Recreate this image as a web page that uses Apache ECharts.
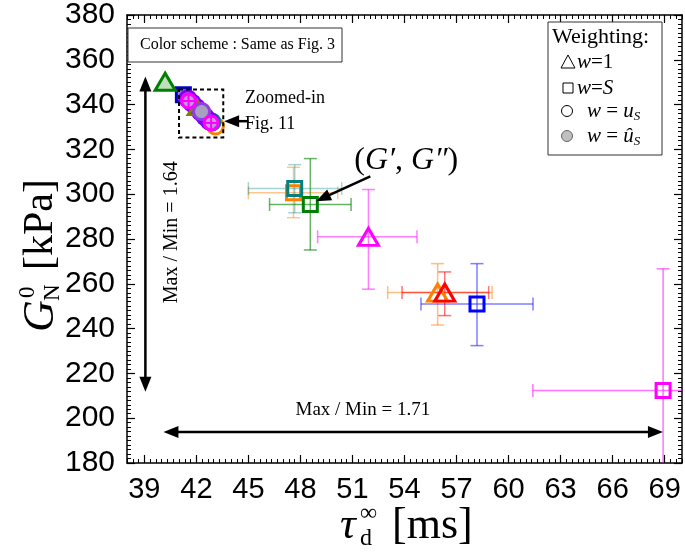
<!DOCTYPE html>
<html><head><meta charset="utf-8">
<script src="https://cdn.jsdelivr.net/npm/echarts@6/dist/echarts.min.js"></script>
<style>html,body{margin:0;padding:0;background:#fff}#c{width:685px;height:556px}</style>
</head><body><div id="c"></div>
<script>
// ---------------- DATA ----------------
const xTickLabels = [39, 42, 45, 48, 51, 54, 57, 60, 63, 66, 69];
const yTickLabels = [180, 200, 220, 240, 260, 280, 300, 320, 340, 360, 380];

// main points: tau_d^inf [ms], G_N^0 [kPa], with error ranges
const pointKeys = ['w1Green', 'sOrange', 'sTeal', 'sGreen', 'w1Magenta', 'w1Orange', 'w1Red', 'sBlue', 'sMagenta'];
const pointShape = ['tri', 'sq', 'sq', 'sq', 'tri', 'tri', 'tri', 'sq', 'sq'];
const tauD    = [40.2, 47.6, 47.67, 48.57, 51.92, 55.91, 56.32, 58.18, 68.91];
const gN0     = [350.2, 300.6, 302.5, 295.4, 281.0, 256.1, 256.1, 251.0, 212.4];
const tauLow  = [null, 45.0, 45.0, 46.22, 48.99, 53.03, 53.86, 54.95, 61.4];
const tauHigh = [null, 50.15, 50.38, 50.92, 54.72, 59.05, 58.85, 61.41, 76.4];
const gLow    = [null, 289.5, 291.7, 275.1, 257.6, 241.6, 245.8, 232.4, 158.0];
const gHigh   = [null, 312.0, 313.2, 315.9, 302.1, 269.0, 265.3, 269.0, 266.7];

// zoomed-in cluster (see Fig. 11)
const zoomBlueSq     = [[41.25, 344.4]];
const zoomOrangeCirc = [[43.1, 330.4]];
const zoomTealCirc   = [[42.9, 332.2]];
const zoomViolet     = [[41.5, 342.6], [41.75, 340.7], [42.0, 338.7], [42.25, 336.7], [42.5, 334.6], [42.75, 332.7]];
const zoomOliveTri   = [[42.05, 338.6]];
const zoomGrayCirc   = [[42.3, 336.9]];
const zoomMagentaX   = [[41.55, 341.6], [42.85, 331.8]];

// annotations (data coordinates)
const zoomBox   = [41.0, 325.3, 43.55, 346.7];
const vArrow    = [[39.06, 211.8], [39.06, 352.6]];
const hArrow    = [[40.1, 193.8], [68.9, 193.8]];
const gArrow    = [[52.03, 308.0], [48.9, 296.9]];
const figArrow  = [[45.0, 332.6], [43.6, 332.6]];
const textZoom  = [44.8, 343.0];
const textFig   = [44.8, 331.0];
const textV     = [40.6, 283.0];
const textH     = [51.6, 203.6];
const textG     = [54.1, 315.0];

// ---------------- STYLE ----------------
const colors = {
  w1Green: '#008000', sOrange: '#FF8000', sTeal: '#008080', sGreen: '#008000',
  w1Magenta: '#FF00FF', w1Orange: '#FF8000', w1Red: '#FF0000', sBlue: '#0000FF', sMagenta: '#FF00FF'
};
const barColors = {
  w1Green: 'rgba(0,128,0,0.5)', sOrange: 'rgba(255,128,0,0.45)', sTeal: 'rgba(0,128,128,0.35)',
  sGreen: 'rgba(0,128,0,0.6)', w1Magenta: 'rgba(255,0,255,0.5)', w1Orange: 'rgba(255,128,0,0.5)',
  w1Red: 'rgba(255,0,0,0.55)', sBlue: 'rgba(0,0,255,0.5)', sMagenta: 'rgba(255,0,255,0.55)'
};
const SERIF = '"Liberation Serif", "Times New Roman", serif';
const SANS = '"Liberation Sans", Arial, sans-serif';

const chart = echarts.init(document.getElementById('c'), null, {renderer: 'canvas'});

const series = [];

// error bars
pointKeys.forEach((k, i) => {
  if (tauLow[i] == null) return;
  series.push({
    type: 'custom', name: k + '_err', clip: true, z: 2,
    data: [[tauD[i], gN0[i], tauLow[i], tauHigh[i], gLow[i], gHigh[i]]],
    renderItem: (params, api) => {
      const x = api.value(0), y = api.value(1);
      const pl = api.coord([api.value(2), y]), ph = api.coord([api.value(3), y]);
      const ql = api.coord([x, api.value(4)]), qh = api.coord([x, api.value(5)]);
      const cap = 6.5;
      const st = {stroke: barColors[k], lineWidth: 1.5};
      const L = (x1, y1, x2, y2) => ({type: 'line', shape: {x1, y1, x2, y2}, style: st});
      return {type: 'group', children: [
        L(pl[0], pl[1], ph[0], ph[1]),
        L(pl[0], pl[1] - cap, pl[0], pl[1] + cap),
        L(ph[0], ph[1] - cap, ph[0], ph[1] + cap),
        L(ql[0], ql[1], qh[0], qh[1]),
        L(ql[0] - cap, ql[1], ql[0] + cap, ql[1]),
        L(qh[0] - cap, qh[1], qh[0] + cap, qh[1])
      ]};
    }
  });
});

// markers helper
function markerSeries(name, data, shape, color, fill, z, size) {
  return {
    type: 'scatter', name, data, z: z || 5,
    symbol: shape === 'tri' ? 'triangle' : (shape === 'sq' ? 'rect' : 'circle'),
    symbolSize: size || (shape === 'tri' ? [20, 17] : (shape === 'sq' ? 14 : 16)),
    itemStyle: {color: fill || 'rgba(255,255,255,0)', borderColor: color, borderWidth: 3, opacity: 1},
    emphasis: {disabled: true}
  };
}

// zoomed cluster
series.push(markerSeries('zBlue', zoomBlueSq, 'sq', '#0000CC', 'rgba(80,0,200,0.5)', 4));
series.push(markerSeries('zOrange', zoomOrangeCirc, 'c', '#FF8000', 'rgba(255,255,255,0)', 4));
series.push(markerSeries('zTeal', zoomTealCirc, 'c', '#008080', 'rgba(255,255,255,0)', 4));
series.push(markerSeries('zViolet', zoomViolet, 'c', '#8000FF', '#B080F0', 5));
series.push(markerSeries('zOlive', zoomOliveTri, 'tri', '#808000', 'rgba(255,255,255,0)', 6, [18, 14]));
series.push(markerSeries('zGray', zoomGrayCirc, 'c', '#9040E0', '#A8A0C0', 6));
series.push({
  type: 'custom', name: 'zMagenta', z: 7, data: zoomMagentaX,
  renderItem: (params, api) => {
    const p = api.coord([api.value(0), api.value(1)]);
    const r = 7;
    const st = {stroke: '#FF00FF', lineWidth: 2};
    return {type: 'group', children: [
      {type: 'circle', shape: {cx: p[0], cy: p[1], r}, style: {fill: 'rgba(200,160,230,0.9)', stroke: '#FF00FF', lineWidth: 3}},
      {type: 'line', shape: {x1: p[0] - r, y1: p[1], x2: p[0] + r, y2: p[1]}, style: st},
      {type: 'line', shape: {x1: p[0], y1: p[1] - r, x2: p[0], y2: p[1] + r}, style: st}
    ]};
  }
});

// main markers
pointKeys.forEach((k, i) => {
  const fill = k === 'w1Green' ? 'rgba(0,128,0,0.25)' : null;
  series.push(markerSeries(k, [[tauD[i], gN0[i]]], pointShape[i], colors[k], fill, 8));
});

// annotations: dashed box
series.push({
  type: 'custom', name: 'zoomBox', z: 9, silent: true, data: [zoomBox],
  renderItem: (params, api) => {
    const a = api.coord([api.value(0), api.value(1)]);
    const b = api.coord([api.value(2), api.value(3)]);
    return {type: 'rect', shape: {x: a[0], y: b[1], width: b[0] - a[0], height: a[1] - b[1]},
      style: {fill: 'none', stroke: '#000', lineWidth: 2, lineDash: [4, 3]}};
  }
});

// arrows
function arrowSeries(name, pts, both) {
  return {
    type: 'custom', name, z: 10, silent: true, data: [[pts[0][0], pts[0][1], pts[1][0], pts[1][1]]],
    renderItem: (params, api) => {
      const a = api.coord([api.value(0), api.value(1)]);
      const b = api.coord([api.value(2), api.value(3)]);
      const head = (from, to) => {
        const dx = to[0] - from[0], dy = to[1] - from[1];
        const len = Math.hypot(dx, dy), ux = dx / len, uy = dy / len;
        const hl = 15, hw = 6;
        const bx = to[0] - ux * hl, by = to[1] - uy * hl;
        return {type: 'polygon', shape: {points: [[to[0], to[1]], [bx - uy * hw, by + ux * hw], [bx + uy * hw, by - ux * hw]]},
          style: {fill: '#000'}};
      };
      const dx = b[0] - a[0], dy = b[1] - a[1], len = Math.hypot(dx, dy);
      const ux = dx / len, uy = dy / len;
      const s = both ? [a[0] + ux * 12, a[1] + uy * 12] : a;
      const e = [b[0] - ux * 12, b[1] - uy * 12];
      const ch = [{type: 'line', shape: {x1: s[0], y1: s[1], x2: e[0], y2: e[1]}, style: {stroke: '#000', lineWidth: 2.5}},
        head(a, b)];
      if (both) ch.push(head(b, a));
      return {type: 'group', children: ch};
    }
  };
}
series.push(arrowSeries('vArrow', vArrow, true));
series.push(arrowSeries('hArrow', hArrow, true));
series.push(arrowSeries('gArrow', gArrow, false));
series.push(arrowSeries('figArrow', figArrow, false));

// text annotations
function textSeries(name, pos, text, opts) {
  return {
    type: 'custom', name, z: 11, silent: true, data: [pos],
    renderItem: (params, api) => {
      const p = api.coord([api.value(0), api.value(1)]);
      return {type: 'text', x: p[0], y: p[1], rotation: opts.rotation || 0,
        style: {text, fill: '#000', font: opts.font, align: opts.align || 'center', verticalAlign: 'middle'}};
    }
  };
}
series.push(textSeries('tZoom', textZoom, 'Zoomed-in', {font: '18px ' + SERIF, align: 'left'}));
series.push(textSeries('tFig', textFig, 'Fig. 11', {font: '18px ' + SERIF, align: 'left'}));
series.push(textSeries('tV', textV, 'Max / Min = 1.64', {font: '20px ' + SERIF, rotation: Math.PI / 2}));
series.push(textSeries('tH', textH, 'Max / Min = 1.71', {font: '19px ' + SERIF}));
series.push({
  type: 'custom', name: 'tG', z: 11, silent: true, data: [textG],
  renderItem: (params, api) => {
    const p = api.coord([api.value(0), api.value(1)]);
    return {type: 'text', x: p[0], y: p[1], style: {
      text: '{n|(}{i|G′}{n|, }{i|G″}{n|)}', align: 'center', verticalAlign: 'middle',
      rich: {n: {font: '32px ' + SERIF, fill: '#000'}, i: {font: 'italic 32px ' + SERIF, fill: '#000'}}
    }};
  }
});

const axisCommon = {
  type: 'value', scale: false,
  splitLine: {show: false},
  axisLine: {show: true, onZero: false, lineStyle: {color: '#000', width: 1.5}}
};

const option = {
  animation: false,
  backgroundColor: '#fff',
  grid: {left: 127, right: 3, top: 13, bottom: 93, containLabel: false},
  xAxis: [
    Object.assign({}, axisCommon, {position: 'bottom', min: 38, max: 70, interval: 1,
      axisTick: {show: true, inside: true, length: 4, lineStyle: {color: '#000', width: 1}},
      minorTick: {show: true, splitNumber: 3, length: 4, lineStyle: {color: '#000', width: 1}},
      axisLabel: {show: true, customValues: xTickLabels, margin: 12, color: '#000', fontSize: 29, fontFamily: SANS}
    }),
    Object.assign({}, axisCommon, {position: 'bottom', min: 38, max: 70, interval: 1,
      axisLine: {show: false},
      axisTick: {show: true, inside: true, length: 8, customValues: xTickLabels, lineStyle: {color: '#000', width: 1.2}},
      axisLabel: {show: false}
    }),
    Object.assign({}, axisCommon, {position: 'top', min: 38, max: 70, interval: 1,
      axisTick: {show: true, inside: true, length: 4, lineStyle: {color: '#000', width: 1}},
      minorTick: {show: true, splitNumber: 3, length: 4, lineStyle: {color: '#000', width: 1}},
      axisLabel: {show: false}
    }),
    Object.assign({}, axisCommon, {position: 'top', min: 38, max: 70, interval: 1,
      axisLine: {show: false},
      axisTick: {show: true, inside: true, length: 8, customValues: xTickLabels, lineStyle: {color: '#000', width: 1.2}},
      axisLabel: {show: false}
    })
  ],
  yAxis: [
    Object.assign({}, axisCommon, {position: 'left', min: 180, max: 380, interval: 20,
      axisTick: {show: true, inside: true, length: 8, lineStyle: {color: '#000', width: 1.2}},
      minorTick: {show: true, splitNumber: 10, length: 4, lineStyle: {color: '#000', width: 1}},
      axisLabel: {show: true, customValues: yTickLabels, margin: 12, color: '#000', fontSize: 30, fontFamily: SANS}
    }),
    Object.assign({}, axisCommon, {position: 'right', min: 180, max: 380, interval: 20,
      axisTick: {show: true, inside: true, length: 8, lineStyle: {color: '#000', width: 1.2}},
      minorTick: {show: true, splitNumber: 10, length: 4, lineStyle: {color: '#000', width: 1}},
      axisLabel: {show: false}
    })
  ],
  series,
  graphic: [
    // colour-scheme note
    {type: 'rect', shape: {x: 128, y: 28, width: 214, height: 34}, style: {fill: '#fff', stroke: '#333', lineWidth: 1}, z: 20},
    {type: 'text', x: 140, y: 45, style: {text: 'Color scheme : Same as Fig. 3', font: '16px ' + SERIF, fill: '#000', verticalAlign: 'middle'}, z: 21},
    // weighting legend
    {type: 'rect', shape: {x: 548, y: 22, width: 114, height: 133}, style: {fill: '#fff', stroke: '#333', lineWidth: 1}, z: 20},
    {type: 'text', x: 552, y: 37, style: {text: 'Weighting:', font: '22px ' + SERIF, fill: '#000', verticalAlign: 'middle'}, z: 21},
    {type: 'polygon', shape: {points: [[568, 55], [561, 68], [575, 68]]}, style: {fill: 'none', stroke: '#000', lineWidth: 1}, z: 21},
    {type: 'text', x: 577, y: 62, style: {text: '{i|w}{n|=1}', verticalAlign: 'middle',
      rich: {i: {font: 'italic 21px ' + SERIF, fill: '#000'}, n: {font: '21px ' + SERIF, fill: '#000'}}}, z: 21},
    {type: 'rect', shape: {x: 563, y: 83, width: 10, height: 10}, style: {fill: 'none', stroke: '#000', lineWidth: 1}, z: 21},
    {type: 'text', x: 577, y: 88, style: {text: '{i|w}{n|=}{i|S}', verticalAlign: 'middle',
      rich: {i: {font: 'italic 21px ' + SERIF, fill: '#000'}, n: {font: '21px ' + SERIF, fill: '#000'}}}, z: 21},
    {type: 'circle', shape: {cx: 567, cy: 111, r: 5.5}, style: {fill: 'none', stroke: '#000', lineWidth: 1}, z: 21},
    {type: 'text', x: 587, y: 111, style: {text: '{i|w}{n| = }{i|u}{s|S}', verticalAlign: 'middle',
      rich: {i: {font: 'italic 21px ' + SERIF, fill: '#000'}, n: {font: '21px ' + SERIF, fill: '#000'},
        s: {font: 'italic 13px ' + SERIF, fill: '#000', padding: [12, 0, 0, 0]}}}, z: 21},
    {type: 'circle', shape: {cx: 567, cy: 136, r: 5.5}, style: {fill: '#c0c0c0', stroke: '#666', lineWidth: 1}, z: 21},
    {type: 'text', x: 587, y: 136, style: {text: '{i|w}{n| = }{i|û}{s|S}', verticalAlign: 'middle',
      rich: {i: {font: 'italic 21px ' + SERIF, fill: '#000'}, n: {font: '21px ' + SERIF, fill: '#000'},
        s: {font: 'italic 13px ' + SERIF, fill: '#000', padding: [12, 0, 0, 0]}}}, z: 21},
    // y-axis title
    {type: 'group', x: 41, y: 240, rotation: Math.PI / 2, z: 21, children: [
      {type: 'text', x: -92, y: 0, style: {text: 'G', font: 'italic 44px ' + SERIF, fill: '#000', verticalAlign: 'middle'}},
      {type: 'text', x: -58, y: -13, style: {text: '0', font: '23px ' + SERIF, fill: '#000', verticalAlign: 'middle'}},
      {type: 'text', x: -61, y: 12, style: {text: 'N', font: '23px ' + SERIF, fill: '#000', verticalAlign: 'middle'}},
      {type: 'text', x: -30, y: 0, style: {text: '[kPa]', font: '42px ' + SERIF, fill: '#000', verticalAlign: 'middle'}}
    ]},
    // x-axis title
    {type: 'group', x: 408, y: 526, z: 21, children: [
      {type: 'text', x: -68, y: 0, style: {text: 'τ', font: 'italic 44px ' + SERIF, fill: '#000', verticalAlign: 'middle'}},
      {type: 'text', x: -48, y: -12, style: {text: '∞', font: '24px ' + SERIF, fill: '#000', verticalAlign: 'middle'}},
      {type: 'text', x: -48, y: 13, style: {text: 'd', font: '24px ' + SERIF, fill: '#000', verticalAlign: 'middle'}},
      {type: 'text', x: -16, y: 0, style: {text: '[ms]', font: '44px ' + SERIF, fill: '#000', verticalAlign: 'middle'}}
    ]}
  ]
};
chart.setOption(option);
</script>
</body></html>
